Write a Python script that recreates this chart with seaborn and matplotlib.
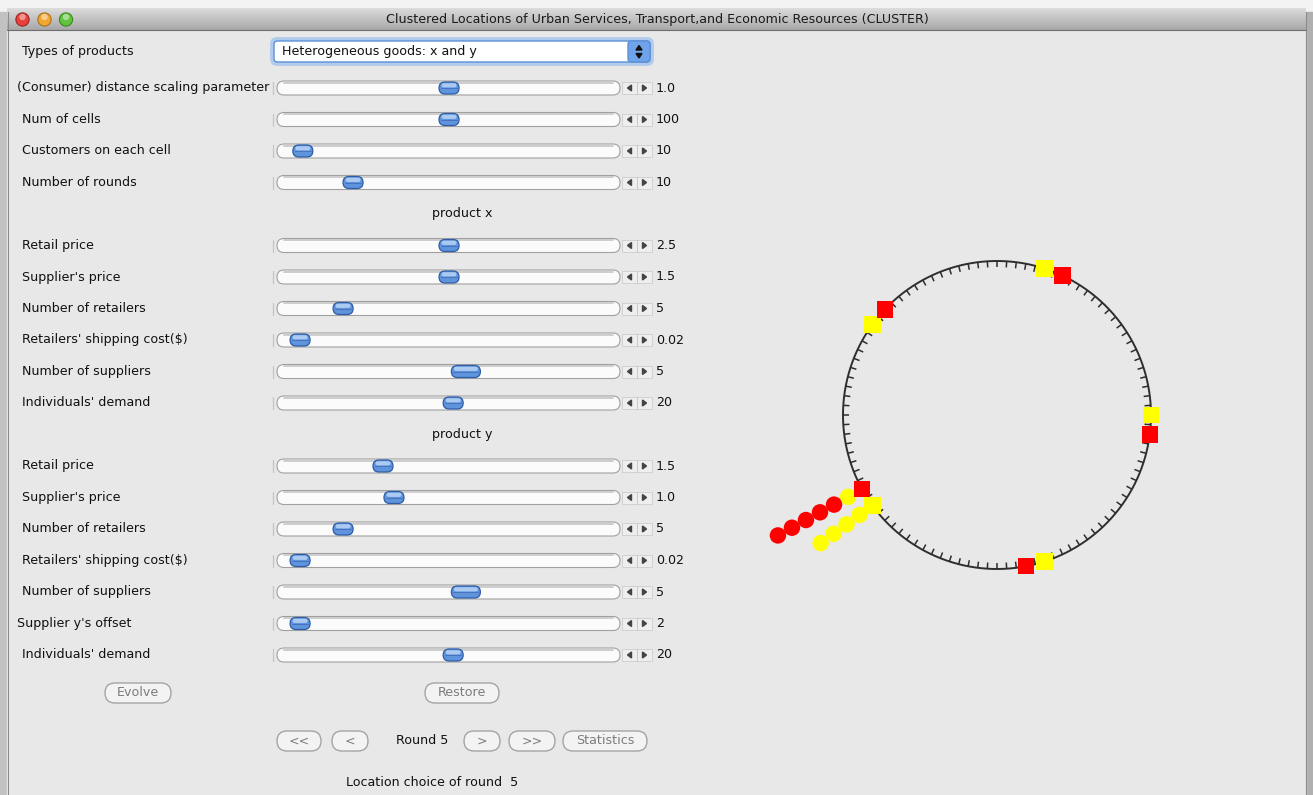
import numpy as np
import pandas as pd
import matplotlib
matplotlib.use("Agg")
import matplotlib.pyplot as plt
import seaborn as sns
from matplotlib.patches import FancyBboxPatch, Rectangle, Circle, Polygon
from matplotlib.collections import LineCollection

# ---------------- data ----------------
window_title = "Clustered Locations of Urban Services, Transport,and Economic Resources (CLUSTER)"
product_type = "Heterogeneous goods: x and y"

general_labels = ["(Consumer) distance scaling parameter", "Num of cells",
                  "Customers on each cell", "Number of rounds"]
general_values = ["1.0", "100", "10", "10"]
general_slider = [0.503, 0.503, 0.078, 0.224]

x_labels = ["Retail price", "Supplier's price", "Number of retailers",
            "Retailers' shipping cost($)", "Number of suppliers", "Individuals' demand"]
x_values = ["2.5", "1.5", "5", "0.02", "5", "20"]
x_slider = [0.503, 0.503, 0.195, 0.070, 0.552, 0.515]

y_labels = ["Retail price", "Supplier's price", "Number of retailers",
            "Retailers' shipping cost($)", "Number of suppliers", "Supplier y's offset",
            "Individuals' demand"]
y_values = ["1.5", "1.0", "5", "0.02", "5", "2", "20"]
y_slider = [0.311, 0.343, 0.195, 0.070, 0.552, 0.070, 0.515]

num_cells = 100
x_retailer_cells = [18, 38, 58, 78, 98]
y_retailer_cells = [0, 20, 40, 60, 80]
customer_cells = [58, 58, 58, 58, 58, 58, 60, 60, 60, 60]
customer_products = ["y", "x", "x", "x", "x", "x", "y", "y", "y", "y"]
current_round = 5

product_colors = {"x": "#ff0000", "y": "#ffff00"}

# ---------------- figure ----------------
sns.set_theme(style="white")
plt.rcParams["font.family"] = ["DejaVu Sans"]
FS = 9.1

W, H = 1313, 795
fig = plt.figure(figsize=(W / 100, H / 100), dpi=100, facecolor="#f3f3f3")
bg = fig.add_axes([0, 0, 1, 1])
bg.set_xlim(0, W)
bg.set_ylim(H, 0)
bg.axis("off")

# window frame
bg.add_patch(Rectangle((0, 12), 7, H, color="#c2c2c2", zorder=0))
bg.add_patch(Rectangle((1306, 12), 7, H, color="#b0b0b0", zorder=0))
bg.add_patch(Rectangle((7, 30), 1299, H, color="#e8e8e8", zorder=0))
bg.plot([7.5, 7.5], [12, H], color="#8c8c8c", lw=0.8)
bg.plot([1305.5, 1305.5], [12, H], color="#8c8c8c", lw=0.8)

grad = np.linspace(0, 1, 50).reshape(-1, 1)
bg.imshow(grad, extent=(7, 1306, 30, 8), cmap=matplotlib.colors.LinearSegmentedColormap.from_list(
    "tb", ["#dcdcdc", "#a8a8a8"]), aspect="auto", zorder=1)
bg.plot([7, 1306], [30, 30], color="#6e6e6e", lw=0.8, zorder=2)
bg.text(657, 19.5, window_title, ha="center", va="center", fontsize=FS, color="#1a1a1a", zorder=3)
for cx, fc, ec in [(22.5, "#e8413b", "#9c2520"), (44.5, "#f3a530", "#a8701a"), (66, "#62c43c", "#3b8a22")]:
    bg.add_patch(Circle((cx, 19.5), 6.6, facecolor=fc, edgecolor=ec, lw=0.8, zorder=3))
    bg.add_patch(Circle((cx, 17), 3.2, facecolor="white", alpha=0.45, lw=0, zorder=4))


def rbox(x0, y0, w, h, r, fc, ec, lw=0.8, z=2, **kw):
    p = FancyBboxPatch((x0, y0), w, h, boxstyle=f"round,pad=0,rounding_size={r}",
                       facecolor=fc, edgecolor=ec, lw=lw, zorder=z, **kw)
    bg.add_patch(p)
    return p


# product type dropdown
bg.text(22, 52, "Types of products", ha="left", va="center", fontsize=FS, color="#111")
rbox(272.5, 39.5, 379, 24, 4.5, "none", "#9cc0ee", lw=3.5, z=2, alpha=0.7)
rbox(274, 41, 376, 21, 3.5, "white", "#5b8fd8", lw=1.0, z=3)
rbox(628, 41, 22, 21, 3.5, "#6fa4ea", "#5b8fd8", lw=1.0, z=4)
bg.add_patch(Polygon([[636, 50], [642, 50], [639, 45.5]], color="#111", zorder=5))
bg.add_patch(Polygon([[636, 53.5], [642, 53.5], [639, 58]], color="#111", zorder=5))
bg.text(282, 51.5, product_type, ha="left", va="center", fontsize=FS, color="#111", zorder=5)


def slider(y, label, value, frac, wide=False):
    lx = 17 if label.startswith("(") or label.startswith("Supplier y") else 22
    bg.text(lx, y, label, ha="left", va="center", fontsize=FS, color="#111")
    bg.plot([272.5, 272.5], [y - 6, y + 6], color="#c4c4c4", lw=0.9)
    rbox(277, y - 7, 343, 14, 7, "#fbfbfb", "#a0a0a0", lw=0.8)
    bg.plot([284, 613], [y - 5.3, y - 5.3], color="#cdcdcd", lw=1.4, zorder=2)
    # arrow buttons
    bg.add_patch(Rectangle((622, y - 6), 30, 12, facecolor="#eeeeee", edgecolor="#cccccc", lw=0.6, zorder=2))
    bg.plot([637, 637], [y - 6, y + 6], color="#c4c4c4", lw=0.6, zorder=3)
    bg.add_patch(Polygon([[627.5, y], [631.5, y - 3], [631.5, y + 3]], color="#444", zorder=3))
    bg.add_patch(Polygon([[646.5, y], [642.5, y - 3], [642.5, y + 3]], color="#444", zorder=3))
    bg.text(656, y, value, ha="left", va="center", fontsize=FS, color="#111")
    tx = 276 + frac * 344
    tw = 29 if wide else 20
    rbox(tx - tw / 2, y - 6, tw, 12, 6, "#5f93dc", "#2e5da6", lw=0.9, z=4)
    rbox(tx - tw / 2 + 2.5, y - 4.8, tw - 5, 4.2, 2.1, "#abcaf2", "none", lw=0, z=5)
    bg.plot([tx - tw / 2 + 2, tx + tw / 2 - 2], [y + 0.3, y + 0.3], color="#3f6fb8", lw=0.6, zorder=5)


row_y = lambda i: 88 + 31.5 * i
i = 0
for lab, val, fr in zip(general_labels, general_values, general_slider):
    slider(row_y(i), lab, val, fr)
    i += 1
bg.text(462, row_y(i), "product x", ha="center", va="center", fontsize=FS, color="#111")
i += 1
for lab, val, fr in zip(x_labels, x_values, x_slider):
    slider(row_y(i), lab, val, fr, wide=lab == "Number of suppliers")
    i += 1
bg.text(462, row_y(i), "product y", ha="center", va="center", fontsize=FS, color="#111")
i += 1
for lab, val, fr in zip(y_labels, y_values, y_slider):
    slider(row_y(i), lab, val, fr, wide=lab == "Number of suppliers")
    i += 1


def button(cx, cy, w, text):
    rbox(cx - w / 2, cy - 10, w, 20, 10, "#f3f3f3", "#a4a4a4", lw=1.0)
    bg.text(cx, cy, text, ha="center", va="center", fontsize=FS, color="#7c7c7c", zorder=3)


button(138, 693, 66, "Evolve")
button(462, 693, 74, "Restore")
button(299, 741, 44, "<<")
button(350, 741, 36, "<")
bg.text(422, 740, f"Round {current_round}", ha="center", va="center", fontsize=FS, color="#111")
button(482, 741, 36, ">")
button(532, 741, 46, ">>")
button(605, 741, 84, "Statistics")
bg.text(432, 782, f"Location choice of round  {current_round}", ha="center", va="center",
        fontsize=FS, color="#111")

# ---------------- ring of cells ----------------
R_PX = 154.0
cx_px, cy_px, half = 997, 415, 300
ax = fig.add_axes([(cx_px - half) / W, (H - cy_px - half) / H, 2 * half / W, 2 * half / H])
lim = half / R_PX
ax.set_xlim(-lim, lim)
ax.set_ylim(-lim, lim)
ax.axis("off")
ax.patch.set_alpha(0)

t = np.linspace(0, 2 * np.pi, 500)
ax.plot(np.cos(t), np.sin(t), color="#2e2e2e", lw=1.4, zorder=1)
ang = np.arange(num_cells) * 2 * np.pi / num_cells
segs = [[(np.cos(a), np.sin(a)), (0.96 * np.cos(a), 0.96 * np.sin(a))] for a in ang]
ax.add_collection(LineCollection(segs, colors="#2e2e2e", linewidths=1.1, zorder=1))

cust = pd.DataFrame({"cell": customer_cells, "product": customer_products})
cust["rank"] = cust.groupby("cell").cumcount()
cust["r"] = (170 + 16 * cust["rank"]) / R_PX
cust["a"] = cust["cell"] * 2 * np.pi / num_cells
cust["px"] = cust["r"] * np.cos(cust["a"])
cust["py"] = cust["r"] * np.sin(cust["a"])
sns.scatterplot(data=cust, x="px", y="py", hue="product", palette=product_colors,
                marker="o", s=140, linewidth=0, legend=False, ax=ax, zorder=2)

shops = pd.DataFrame({"cell": y_retailer_cells + x_retailer_cells,
                      "product": ["y"] * len(y_retailer_cells) + ["x"] * len(x_retailer_cells)})
shops["a"] = shops["cell"] * 2 * np.pi / num_cells
shops["px"] = np.cos(shops["a"])
shops["py"] = np.sin(shops["a"])
sns.scatterplot(data=shops, x="px", y="py", hue="product", palette=product_colors,
                marker="s", s=140, linewidth=0, legend=False, ax=ax, zorder=3)
ax.set_xlabel("")
ax.set_ylabel("")

fig.savefig("out.png", dpi=100, facecolor=fig.get_facecolor())
